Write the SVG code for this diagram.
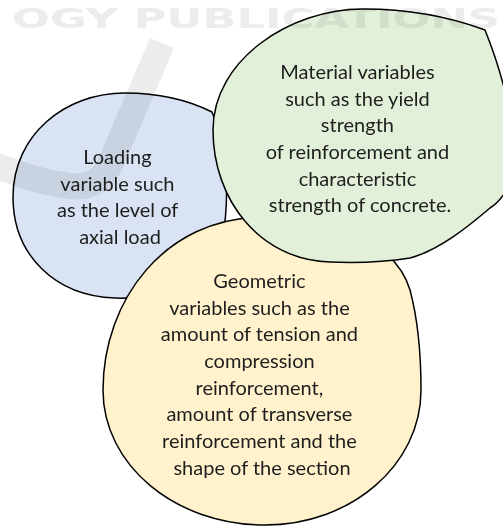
<svg xmlns="http://www.w3.org/2000/svg" width="503" height="528" viewBox="0 0 503 528">
  <style>
    .shape { stroke: #000; stroke-width: 1.5; stroke-linejoin: miter; }
    .blue { fill: #dae3f3; }
    .green { fill: #e2f0d9; }
    .yellow { fill: #fff2cc; }
    .lbl { font-family: Lato, "Open Sans", "Liberation Sans", sans-serif; font-size: 20px; fill: #1e1e1e; text-anchor: middle; }
    .wm { mix-blend-mode: multiply; }
  </style>
  <rect width="503" height="528" fill="#ffffff"/>

  <g id="node-loading">
    <path class="shape blue" d="M212,112 C224,140 232,190 222,240 C205,280 165,300 115,298 C55,296 13,255 13,197 C13,135 65,93 125,93 C160,93 190,101 212,112 Z"/>
    <text class="lbl">
      <tspan x="120" y="164">Loading</tspan>
      <tspan x="120" y="190.7">variable such</tspan>
      <tspan x="120" y="217.3">as the level of</tspan>
      <tspan x="120" y="244">axial load</tspan>
    </text>
  </g>

  <g id="node-geometric">
    <path class="shape yellow" d="M103,390 C103,300 165,218 262,217 C330,217 395,240 410,290 C418,320 421,360 421,390 C421,465 351,525 265,525 C175,525 103,465 103,390 Z"/>
    <text class="lbl">
      <tspan x="262" y="288">Geometric</tspan>
      <tspan x="262" y="314.7">variables such as the</tspan>
      <tspan x="262" y="341.3">amount of tension and</tspan>
      <tspan x="262" y="368">compression</tspan>
      <tspan x="262" y="394.7">reinforcement,</tspan>
      <tspan x="262" y="421.3">amount of transverse</tspan>
      <tspan x="262" y="448">reinforcement and the</tspan>
      <tspan x="262" y="474.7">shape of the section</tspan>
    </text>
  </g>

  <g id="node-material">
    <path class="shape green" d="M485,30 C495,55 503,80 508,105 C518,130 522,160 512,180 C505,195 498,203 490,208 C470,225 440,250 410,258 C385,262 355,263 330,262 C260,260 213,200 213,130 C213,60 290,9 363,9 C410,9 450,17 485,30 Z"/>
    <text class="lbl">
      <tspan x="360" y="79">Material variables</tspan>
      <tspan x="360" y="105.7">such as the yield</tspan>
      <tspan x="360" y="132.3">strength</tspan>
      <tspan x="360" y="159">of reinforcement and</tspan>
      <tspan x="360" y="185.7">characteristic</tspan>
      <tspan x="360" y="212.3">strength of concrete.</tspan>
    </text>
  </g>

  <g id="connectors"></g>

  <g id="watermark" class="wm">
    <text x="12" y="28" font-family="'DejaVu Sans', sans-serif" font-weight="bold" font-size="26" fill="#ececec" textLength="488" lengthAdjust="spacingAndGlyphs">OGY PUBLICATIONS</text>
    <path d="M162,43 L112,160 Q100,190 70,186 Q35,182 -5,165" fill="none" stroke="#ececec" stroke-width="26"/>
  </g>
</svg>
